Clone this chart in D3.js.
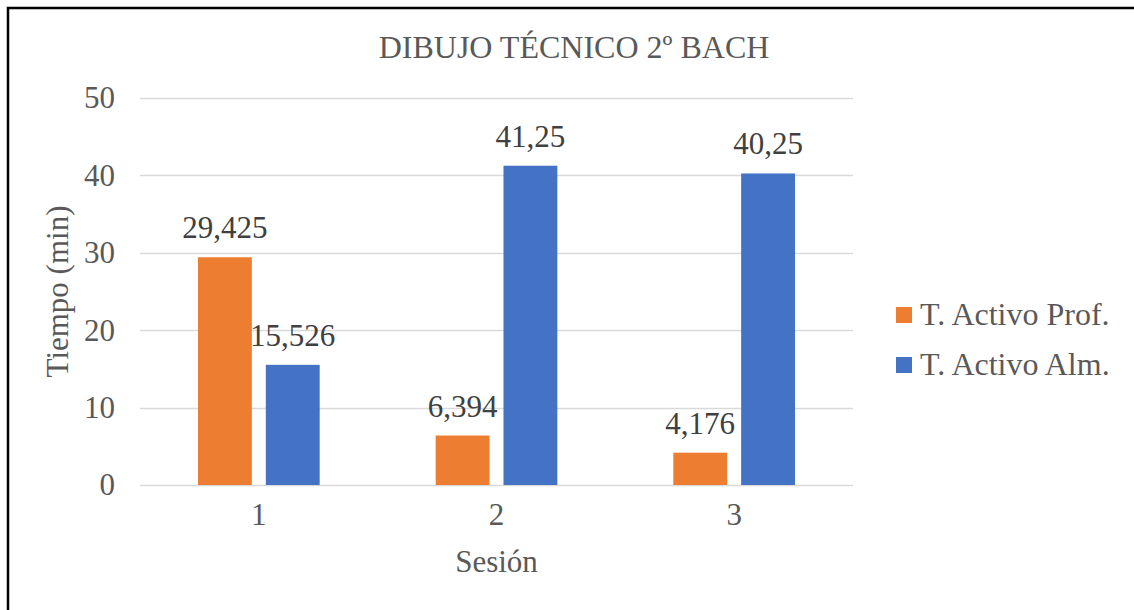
<!DOCTYPE html>
<html>
<head>
<meta charset="utf-8">
<script src="https://cdn.jsdelivr.net/npm/d3@7"></script>
<style>
  body { margin: 0; background: #fff; }
</style>
</head>
<body>
<div id="grafica"></div>
<script>
// data
var sesiones = ["1", "2", "3"];
var series = ["T. Activo Prof.", "T. Activo Alm."];
var activoProf = [29.425, 6.394, 4.176];
var activoAlm = [15.526, 41.25, 40.25];
var etiquetasProf = ["29,425", "6,394", "4,176"];
var etiquetasAlm = ["15,526", "41,25", "40,25"];
var yTicks = [0, 10, 20, 30, 40, 50];
var colores = ["#ED7D31", "#4472C4"];

var width = 1134, height = 610;
var plot = {left: 140, right: 853, top: 98, bottom: 485};

var svg = d3.select("#grafica")
  .append("svg")
    .attr("width", width)
    .attr("height", height);

svg.append("rect")
  .attr("width", width).attr("height", height).attr("fill", "#fff");

// chart border (only top/left visible in the picture)
svg.append("rect")
  .attr("x", 8).attr("y", 8)
  .attr("width", width + 20).attr("height", height + 20)
  .attr("fill", "none")
  .attr("stroke", "#000")
  .attr("stroke-width", 2.5);

var x0 = d3.scaleBand()
  .domain(sesiones)
  .range([plot.left, plot.right]);

var x1 = d3.scaleBand()
  .domain(series)
  .range([x0.bandwidth() * 0.244, x0.bandwidth() * 0.756])
  .paddingInner(0.206);

var y = d3.scaleLinear()
  .domain([0, 50])
  .range([plot.bottom, plot.top]);

// gridlines
svg.append("g")
  .selectAll("line")
  .data(yTicks)
  .enter().append("line")
    .attr("x1", plot.left)
    .attr("x2", plot.right)
    .attr("y1", function(d) { return Math.round(y(d)) + 0.5; })
    .attr("y2", function(d) { return Math.round(y(d)) + 0.5; })
    .attr("stroke", "#D9D9D9")
    .attr("stroke-width", 1.5);

// y axis labels
var yAxis = svg.append("g")
  .attr("transform", "translate(" + plot.left + ",0)")
  .call(d3.axisLeft(y).tickValues(yTicks).tickSize(0).tickPadding(25));
yAxis.select(".domain").remove();

// x axis labels
var xAxis = svg.append("g")
  .attr("transform", "translate(0," + plot.bottom + ")")
  .call(d3.axisBottom(x0).tickSize(0).tickPadding(18));
xAxis.select(".domain").remove();

// bars
var tabla = sesiones.map(function(s, i) {
  return [
    {sesion: s, serie: series[0], valor: activoProf[i], etiqueta: etiquetasProf[i], color: colores[0]},
    {sesion: s, serie: series[1], valor: activoAlm[i], etiqueta: etiquetasAlm[i], color: colores[1]}
  ];
});

var grupos = svg.append("g")
  .selectAll("g")
  .data(tabla)
  .enter().append("g")
    .attr("transform", function(d) { return "translate(" + x0(d[0].sesion) + ",0)"; });

grupos.selectAll("rect")
  .data(function(d) { return d; })
  .enter().append("rect")
    .attr("x", function(d) { return x1(d.serie); })
    .attr("y", function(d) { return y(d.valor); })
    .attr("width", x1.bandwidth())
    .attr("height", function(d) { return y(0) - y(d.valor); })
    .attr("fill", function(d) { return d.color; });

grupos.selectAll("text")
  .data(function(d) { return d; })
  .enter().append("text")
    .attr("class", "etiqueta")
    .attr("x", function(d) { return x1(d.serie) + x1.bandwidth() / 2; })
    .attr("y", function(d) { return y(d.valor) - 19; })
    .attr("text-anchor", "middle")
    .text(function(d) { return d.etiqueta; });

// titles
svg.append("text")
  .attr("class", "grande")
  .attr("x", 574)
  .attr("y", 58)
  .attr("text-anchor", "middle")
  .text("DIBUJO TÉCNICO 2º BACH");

svg.append("text")
  .attr("x", (plot.left + plot.right) / 2)
  .attr("y", 572)
  .attr("text-anchor", "middle")
  .text("Sesión");

svg.append("text")
  .attr("transform", "translate(68," + ((plot.top + plot.bottom) / 2) + ") rotate(-90)")
  .attr("text-anchor", "middle")
  .text("Tiempo (min)");

// legend
var leyenda = svg.append("g")
  .selectAll("g")
  .data(series)
  .enter().append("g")
    .attr("transform", function(d, i) { return "translate(896," + (307 + i * 50) + ")"; });

leyenda.append("rect")
  .attr("width", 16).attr("height", 16)
  .attr("fill", function(d, i) { return colores[i]; });

leyenda.append("text")
  .attr("class", "grande")
  .attr("x", 24)
  .attr("y", 18)
  .text(function(d) { return d; });

// common text style
svg.selectAll("g").attr("font-family", null);
svg.selectAll("text")
  .attr("font-family", "Liberation Serif")
  .style("font-family", "'Liberation Serif'")
  .style("font-size", "31px")
  .style("fill", "#595959");
svg.selectAll("text.grande")
  .style("font-size", "32px");
svg.selectAll("text.etiqueta")
  .style("fill", "#404040");
</script>
</body>
</html>
